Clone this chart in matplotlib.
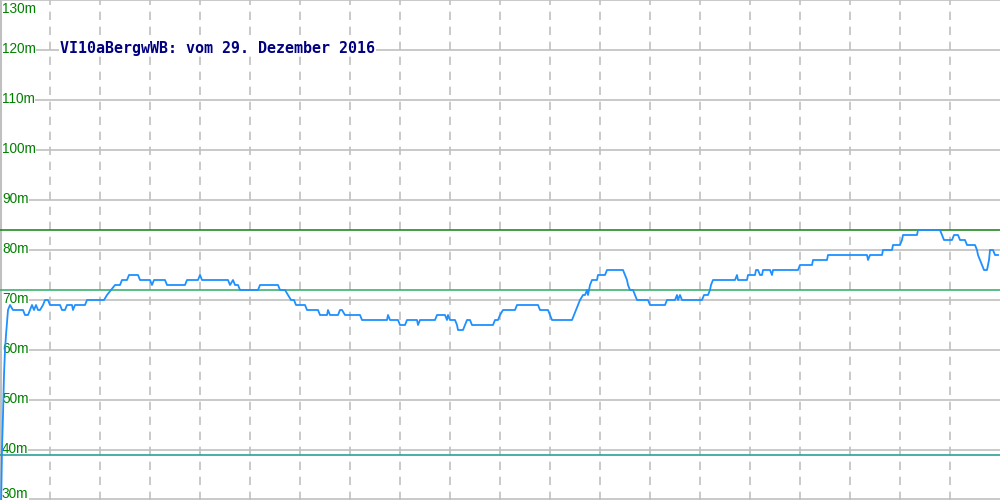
import matplotlib
matplotlib.use('Agg')
import matplotlib.pyplot as plt

# level readings (x position along the day, metres)
pos = [1, 2, 3, 4, 5, 6, 8, 10, 13, 23, 25, 28, 30, 32, 34, 36, 38, 40, 43, 45, 48, 50,
       60, 62, 65, 67, 72, 73, 75, 85, 87, 104, 107, 111, 115, 120, 122, 127, 129, 138,
       140, 150, 152, 154, 165, 167, 185, 187, 198, 200, 202, 228, 230, 233, 235, 238,
       240, 258, 260, 278, 280, 285, 288, 291, 294, 296, 298, 305, 307, 318, 320, 327,
       328, 330, 338, 340, 342, 345, 360, 362, 387, 388, 390, 398, 400, 405, 407, 417,
       418, 420, 435, 437, 445, 447, 448, 450, 455, 457, 458, 463, 465, 467, 470, 472,
       493, 495, 498, 500, 503, 515, 517, 538, 540, 548, 550, 552, 572, 574, 576, 578,
       580, 583, 585, 587, 588, 590, 592, 597, 598, 605, 607, 623, 625, 627, 628, 630,
       633, 635, 637, 648, 650, 665, 667, 675, 677, 678, 680, 682, 702, 704, 708, 710,
       711, 713, 735, 737, 738, 747, 748, 755, 756, 758, 760, 762, 763, 770, 772, 773,
       798, 800, 812, 813, 827, 828, 867, 868, 870, 882, 883, 892, 893, 900, 902, 903,
       917, 918, 940, 942, 944, 952, 954, 958, 960, 965, 967, 975, 977, 978, 980, 982,
       984, 987, 988, 989, 990, 993, 995, 998]
level = [28, 40, 47, 55, 60, 63, 68, 69, 68, 68, 67, 67, 68, 69, 68, 69, 68, 68, 69, 70, 70, 69,
         69, 68, 68, 69, 69, 68, 69, 69, 70, 70, 71, 72, 73, 73, 74, 74, 75, 75,
         74, 74, 73, 74, 74, 73, 73, 74, 74, 75, 74, 74, 73, 74, 73, 73,
         72, 72, 73, 73, 72, 72, 71, 70, 70, 69, 69, 69, 68, 68, 67, 67,
         68, 67, 67, 68, 68, 67, 67, 66, 66, 67, 66, 66, 65, 65, 66, 66,
         65, 66, 66, 67, 67, 66, 67, 66, 66, 65, 64, 64, 65, 66, 66, 65,
         65, 66, 66, 67, 68, 68, 69, 69, 68, 68, 67, 66, 66, 67, 68, 69,
         70, 71, 71, 72, 71, 73, 74, 74, 75, 75, 76, 76, 75, 74, 73, 72,
         72, 71, 70, 70, 69, 69, 70, 70, 71, 70, 71, 70, 70, 71, 71, 72,
         73, 74, 74, 75, 74, 74, 75, 75, 76, 76, 75, 75, 76, 76, 75, 76,
         76, 77, 77, 78, 78, 79, 79, 78, 79, 79, 80, 80, 81, 81, 82, 83,
         83, 84, 84, 83, 82, 82, 83, 83, 82, 82, 81, 81, 80, 79, 78, 77,
         76, 76, 77, 78, 80, 80, 79, 79]

yticks = [40, 50, 60, 70, 80, 90, 100, 110, 120, 130]
label_vals = [30, 40, 50, 60, 70, 80, 90, 100, 110, 120, 130]
label_txt = ['30m', '40m', '50m', '60m', '70m', '80m', '90m', '100m', '110m', '120m', '130m']
limit_hi = 84
limit_mid = 72
limit_lo = 39
title = 'VI10aBergwWB: vom 29. Dezember 2016'

fig = plt.figure(figsize=(10, 5), dpi=100)
ax = fig.add_axes([0, 0, 1, 1])
ax.set_xlim(0, 1000)
ax.set_ylim(30, 130)
ax.axis('off')

# grid
for v in yticks:
    ax.axhline(v, color='#c0c0c0', lw=1.2, zorder=1)
ax.axhline(30.2, color='#c0c0c0', lw=1.2, zorder=1)
for xv in range(50, 1000, 50):
    ax.axvline(xv, color='#c0c0c0', lw=1.2, ls=(0, (5, 4)), zorder=1)
ax.axvline(0.6, color='#c0c0c0', lw=1.5, zorder=1)

# y labels: baseline a few pixels under the line, top one hangs below
for v, t in zip(label_vals, label_txt):
    if v == 130:
        yy = 127.4
    elif v == 30:
        yy = 30.4
    else:
        yy = v - 0.6
    ax.text(2, yy, t, color='#008000', fontsize=9.8, family=['Liberation Sans', 'DejaVu Sans'],
            ha='left', va='baseline', zorder=1.5,
            bbox=dict(facecolor='white', edgecolor='none', pad=0))

# limit lines
ax.axhline(limit_hi, color='#228b22', lw=1.2, zorder=2)
ax.axhline(limit_mid, color='#3cb371', lw=1.2, zorder=2)
ax.axhline(limit_lo, color='#2aa198', lw=1.2, zorder=2)

ax.plot(pos, level, color='#1e90ff', lw=1.3, zorder=4)

ax.text(60, 120.4, title, color='#000080', fontsize=10.8, family='DejaVu Sans Mono',
        fontweight='bold', ha='left', va='center', zorder=5,
        bbox=dict(facecolor='white', edgecolor='none', pad=0.5))

fig.savefig('out.png', dpi=100)
